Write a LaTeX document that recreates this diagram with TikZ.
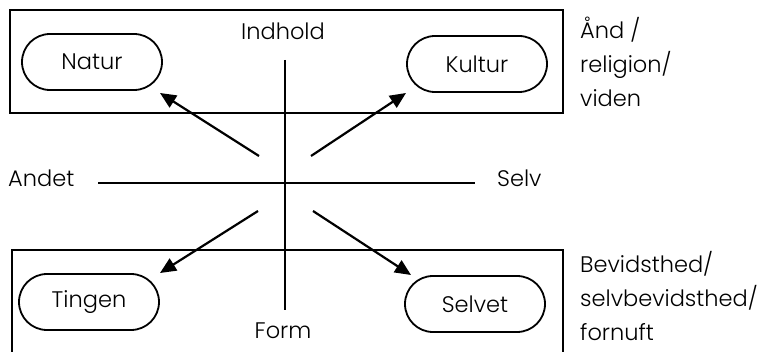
\documentclass[tikz,border=0pt]{standalone}
\usepackage{fontspec}
\setmainfont{Poppins Light}
\usetikzlibrary{arrows.meta}
\begin{document}
\begin{tikzpicture}[x=1pt,y=-1pt,
  every node/.style={font=\fontsize{22.5}{34}\selectfont},
  pill/.style={draw,line width=1.8pt,minimum width=140pt,minimum height=56pt,rounded corners=28pt,inner sep=0pt},
  frame/.style={line width=2pt},
  axis/.style={line width=2pt},
  link/.style={line width=2.2pt,-{Triangle[length=16pt,width=14pt]}},
  word/.style={anchor=base,inner sep=0pt},
  side/.style={align=left,anchor=base west,inner sep=0pt}]
\useasboundingbox (0,0) rectangle (759,352);
% frames
\draw[frame] (10,10) rectangle (563,113);
\draw[frame] (12,360) -- (12,250) -- (563,250) -- (563,360);
% rounded boxes
\node[pill] (natur) at (92,62) {Natur};
\node[pill] (kultur) at (477,64) {Kultur};
\node[pill] (tingen) at (89,302) {Tingen};
\node[pill] (selvet) at (475,304) {Selvet};
% axes
\node[word] (indhold) at (283,40) {Indhold};
\node[word] (form) at (283,338) {Form};
\node[word,anchor=base west] (andet) at (8,187) {Andet};
\node[word,anchor=base west] (selv) at (497,187) {Selv};
\coordinate (vtop) at (285,60);
\coordinate (vbot) at (285,310);
\coordinate (hl) at (98,183);
\coordinate (hr) at (475,183);
\draw[axis] (vtop) -- (vbot);
\draw[axis] (hl) -- (hr);
% arrows
\coordinate (a1) at (259,156);
\coordinate (a2) at (311,156);
\coordinate (a3) at (258,211);
\coordinate (a4) at (313,211);
\draw[link] (a1) -- (160,93);
\draw[link] (a2) -- (406,93);
\draw[link] (a3) -- (160,273);
\draw[link] (a4) -- (411,275);
% side labels (anchored at the baseline of their last line)
\node[side] (top side) at (580,107) {Ånd /\\religion/\\viden};
\node[side] (bot side) at (580,340) {Bevidsthed/\\selvbevidsthed/\\fornuft};
\end{tikzpicture}
\end{document}
